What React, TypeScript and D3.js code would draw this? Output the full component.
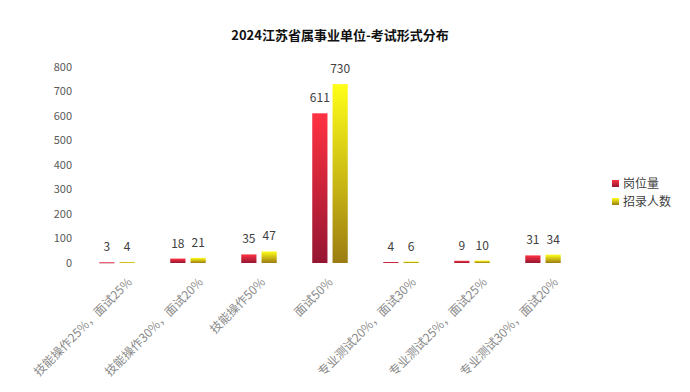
import { useEffect, useRef } from 'react';
import * as d3 from 'd3';

const categories = [
  '技能操作25%，面试25%',
  '技能操作30%，面试20%',
  '技能操作50%',
  '面试50%',
  '专业测试20%，面试30%',
  '专业测试25%，面试25%',
  '专业测试30%，面试20%',
];
const seriesNames = ['岗位量', '招录人数'];
const positions = [3, 18, 35, 611, 4, 9, 31];
const hires = [4, 21, 47, 730, 6, 10, 34];
const yTicks = [0, 100, 200, 300, 400, 500, 600, 700, 800];

const W = 690;
const H = 392;
const font = '"Noto Sans CJK SC", "Noto Sans", sans-serif';

// top / bottom colours of each series' gradient
const gradients = [
  { id: 'gRed', top: '#ff3242', bottom: '#951632' },
  { id: 'gYellow', top: '#ffff18', bottom: '#9c7c12' },
];

const App = () => {
  const ref = useRef<SVGSVGElement>(null);

  useEffect(() => {
    const svg = d3.select(ref.current);
    svg.selectAll('*').remove();

    const defs = svg.append('defs');
    gradients.forEach(g => {
      const lg = defs.append('linearGradient')
        .attr('id', g.id)
        .attr('x1', 0).attr('y1', 0).attr('x2', 0).attr('y2', 1);
      lg.append('stop').attr('offset', '0%').attr('stop-color', g.top);
      lg.append('stop').attr('offset', '100%').attr('stop-color', g.bottom);
    });

    const x = d3.scaleBand()
      .domain(categories)
      .range([81.5, 578.5])
      .paddingInner(0.5)
      .paddingOuter(0.25);

    const xSub = d3.scaleBand()
      .domain(seriesNames)
      .range([0, x.bandwidth()])
      .paddingInner(0.25);

    const y = d3.scaleLinear().domain([0, 800]).range([263, 67]);

    // title
    svg.append('text')
      .attr('x', 340)
      .attr('y', 40)
      .attr('text-anchor', 'middle')
      .attr('font-family', font)
      .attr('font-size', 13)
      .attr('font-weight', 'bold')
      .attr('fill', '#111')
      .text('2024江苏省属事业单位-考试形式分布');

    // y axis labels
    svg.append('g')
      .selectAll('text')
      .data(yTicks)
      .join('text')
      .attr('x', 72)
      .attr('y', d => y(d))
      .attr('dy', '0.35em')
      .attr('text-anchor', 'end')
      .attr('font-family', font)
      .attr('font-size', 11)
      .attr('fill', '#595959')
      .text(d => d);

    const series = [positions, hires];

    series.forEach((vals, si) => {
      const g = svg.append('g');
      g.selectAll('rect')
        .data(vals)
        .join('rect')
        .attr('x', (_, i) => (x(categories[i]) ?? 0) + (xSub(seriesNames[si]) ?? 0))
        .attr('y', d => y(d))
        .attr('width', xSub.bandwidth())
        .attr('height', d => Math.max(1, y(0) - y(d)))
        .attr('fill', `url(#${gradients[si].id})`);

      g.selectAll('text')
        .data(vals)
        .join('text')
        .attr('x', (_, i) => (x(categories[i]) ?? 0) + (xSub(seriesNames[si]) ?? 0) + xSub.bandwidth() / 2)
        .attr('y', d => y(d) - 11)
        .attr('text-anchor', 'middle')
        .attr('font-family', font)
        .attr('font-size', 12)
        .attr('fill', '#404040')
        .text(d => d);
    });

    // rotated category labels
    const labels = svg.append('g')
      .selectAll('text')
      .data(categories)
      .join('text')
      .attr('text-anchor', 'end')
      .attr('font-family', font)
      .attr('font-size', 12)
      .attr('fill', '#8a8a8a')
      .text(d => d);

    labels.each(function (d) {
      const len = (this as SVGTextElement).getComputedTextLength();
      const cx = (x(d) ?? 0) + x.bandwidth() / 2;
      const ex = cx - 3.5 + 0.146 * len;
      d3.select(this).attr('transform', `translate(${ex},283) rotate(-45)`);
    });

    // legend
    const legend = svg.append('g').attr('transform', 'translate(612,184)');
    seriesNames.forEach((name, i) => {
      legend.append('rect')
        .attr('x', 0)
        .attr('y', i * 18 - 4)
        .attr('width', 7)
        .attr('height', 7)
        .attr('fill', `url(#${gradients[i].id})`);
      legend.append('text')
        .attr('x', 11)
        .attr('y', i * 18)
        .attr('dy', '0.35em')
        .attr('font-family', font)
        .attr('font-size', 12)
        .attr('fill', '#404040')
        .text(name);
    });
  }, []);

  return (
    <svg
      ref={ref}
      width={W}
      height={H}
      style={{ position: 'absolute', left: 0, top: 0, background: '#fff' }}
    />
  );
};

export default App;
